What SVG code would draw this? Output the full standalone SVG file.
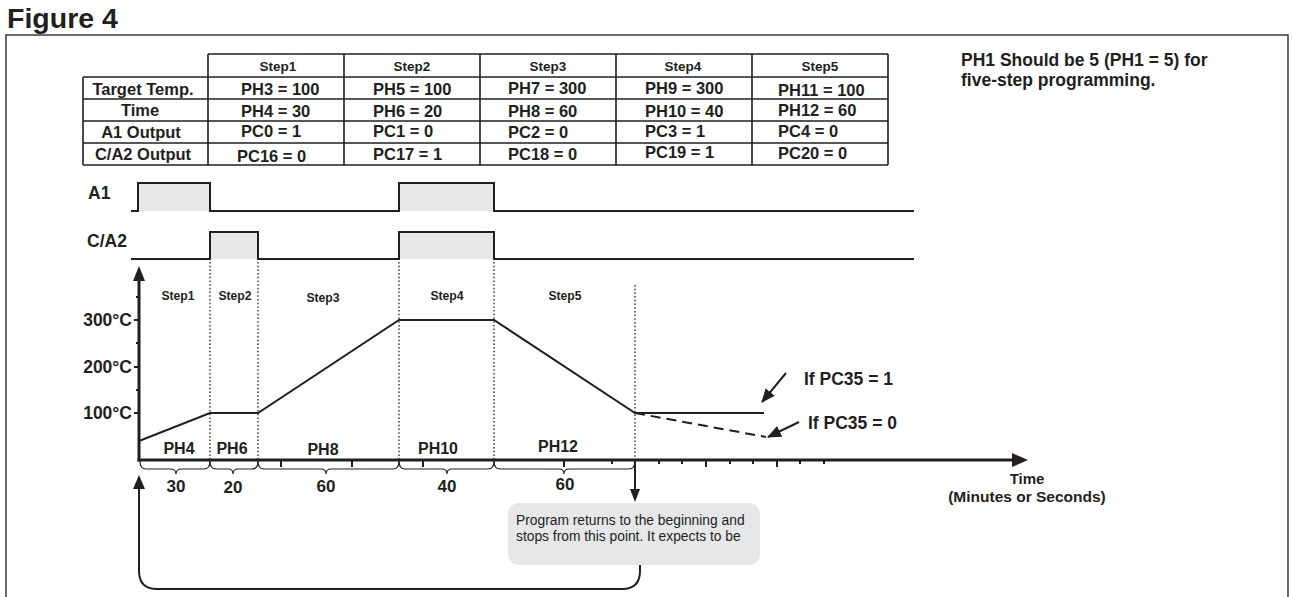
<svg xmlns="http://www.w3.org/2000/svg" width="1292" height="597" viewBox="0 0 1292 597">
<style>
text{font-family:"Liberation Sans",Arial,sans-serif;fill:#231f20}
.b{font-weight:bold}
.c{text-anchor:middle}
.tv{font-size:16.5px;font-weight:bold}
.th{font-size:13.5px;font-weight:bold;text-anchor:middle}
.tl{font-size:16.5px;font-weight:bold;text-anchor:middle}
.grid{stroke:#231f20;stroke-width:1.6;fill:none}
.sig{stroke:#231f20;stroke-width:2;fill:none}
.pulse{fill:#e6e7e8;stroke:none}
.dot{stroke:#231f20;stroke-width:1.3;stroke-dasharray:1.5 2.2;fill:none}
.ln{stroke:#231f20;stroke-width:2;fill:none}
.brace{stroke:#231f20;stroke-width:1.2;fill:none}
.axis{stroke:#231f20;stroke-width:3;fill:none}
.tick{stroke:#231f20;stroke-width:2;fill:none}
.head{fill:#231f20}
</style>
<defs>
<marker id="ah" viewBox="0 0 14 12" refX="13" refY="6" markerWidth="14" markerHeight="12" orient="auto" markerUnits="userSpaceOnUse"><path d="M0,0 L14,6 L0,12 z" fill="#231f20"/></marker>
</defs>
<rect width="1292" height="597" fill="#ffffff"/>

<g id="title"><text x="7" y="28" class="b" font-size="28.5">Figure 4</text></g>
<g id="frame"><path d="M6,600 L6,35 L1288,35 L1288,600" fill="none" stroke="#3a3a3a" stroke-width="1.5"/></g>

<g id="table">
<path class="grid" d="M208,54 H888 M83,77 H888 M83,99 H888 M83,121 H888 M83,143 H888 M83,165 H888 M83,77 V165 M208,54 V165 M344,54 V165 M480,54 V165 M616,54 V165 M752,54 V165 M888,54 V165"/>
<text x="278" y="71" class="th">Step1</text>
<text x="412" y="71" class="th">Step2</text>
<text x="548" y="71" class="th">Step3</text>
<text x="683" y="71" class="th">Step4</text>
<text x="820" y="71" class="th">Step5</text>
<text x="143" y="95" class="tl">Target Temp.</text>
<text x="140" y="116" class="tl">Time</text>
<text x="141" y="138" class="tl">A1 Output</text>
<text x="143" y="160" class="tl">C/A2 Output</text>
<text x="241" y="95" class="tv">PH3 = 100</text>
<text x="241" y="117" class="tv">PH4 = 30</text>
<text x="241" y="137" class="tv">PC0 = 1</text>
<text x="237" y="162" class="tv">PC16 = 0</text>
<text x="373" y="95" class="tv">PH5 = 100</text>
<text x="373" y="117" class="tv">PH6 = 20</text>
<text x="373" y="137" class="tv">PC1 = 0</text>
<text x="373" y="160" class="tv">PC17 = 1</text>
<text x="508" y="94" class="tv">PH7 = 300</text>
<text x="508" y="117" class="tv">PH8 = 60</text>
<text x="508" y="138" class="tv">PC2 = 0</text>
<text x="508" y="160" class="tv">PC18 = 0</text>
<text x="645" y="94" class="tv">PH9 = 300</text>
<text x="645" y="117" class="tv">PH10 = 40</text>
<text x="645" y="137" class="tv">PC3 = 1</text>
<text x="645" y="158" class="tv">PC19 = 1</text>
<text x="778" y="96" class="tv">PH11 = 100</text>
<text x="778" y="116" class="tv">PH12 = 60</text>
<text x="778" y="137" class="tv">PC4 = 0</text>
<text x="778" y="159" class="tv">PC20 = 0</text>
</g>

<g id="note">
<text x="961" y="66" class="b" font-size="17.5">PH1 Should be 5 (PH1 = 5) for</text>
<text x="961" y="86" class="b" font-size="17.5">five-step programming.</text>
</g>

<g id="signal-a1">
<text x="88" y="199" class="b" font-size="17.5">A1</text>
<rect class="pulse" x="138" y="183" width="72" height="28"/>
<rect class="pulse" x="399" y="183" width="95" height="28"/>
<path class="sig" d="M131,211 H138 V183 H210 V211 H399 V183 H494 V211 H914"/>
</g>
<g id="signal-ca2">
<text x="87" y="247" class="b" font-size="17.5">C/A2</text>
<rect class="pulse" x="210" y="232" width="48" height="27"/>
<rect class="pulse" x="399" y="232" width="95" height="27"/>
<path class="sig" d="M131,259 H210 V232 H258 V259 H399 V232 H494 V259 H914"/>
</g>

<g id="step-dividers">
<path class="dot" d="M210,262 V460 M258,262 V460 M399,262 V460 M494,262 V460 M635,285 V460"/>
</g>

<g id="step-labels" class="b" font-size="12.2">
<text x="178" y="300" class="c">Step1</text>
<text x="235" y="300" class="c">Step2</text>
<text x="323" y="302" class="c">Step3</text>
<text x="447" y="300" class="c">Step4</text>
<text x="565" y="300" class="c">Step5</text>
</g>

<g id="y-axis">
<path class="axis" d="M139,280 V461.5"/>
<polygon class="head" points="139,266 133,281 145,281"/>
<path class="tick" d="M134,320 H139 M134,367 H139 M134,413 H139 M136,297 H139 M136,343 H139 M136,390 H139"/>
<text x="132" y="326" class="b" font-size="17.5" text-anchor="end">300°C</text>
<text x="132" y="373" class="b" font-size="17.5" text-anchor="end">200°C</text>
<text x="132" y="419" class="b" font-size="17.5" text-anchor="end">100°C</text>
</g>

<g id="x-axis">
<path class="axis" d="M137.5,460 H1013"/>
<polygon class="head" points="1028,460 1012,453 1012,467"/>
<path class="tick" d="M281,460 V467 M352,460 V467 M423,460 V467 M564,460 V467 M706,460 V467 M777,460 V467"/>
<path class="tick" stroke-width="1.6" d="M612,460 V464 M659,460 V464 M682,460 V464 M730,460 V464 M753,460 V464 M800,460 V464 M824,460 V464"/>
<text x="1027" y="484" class="b c" font-size="15">Time</text>
<text x="1027" y="502" class="b c" font-size="15.5">(Minutes or Seconds)</text>
</g>

<g id="profile">
<polyline class="ln" points="139,441 210,413 258,413 399,320 494,320 635,413 764,413"/>
<path class="ln" stroke-dasharray="10 6" d="M635,413 L766,437"/>
</g>

<g id="durations">
<path class="brace" d="M140,461 Q140,469 146,469 H170 Q176,469 176,474 Q176,469 182,469 H204 Q210,469 210,461"/>
<path class="brace" d="M210,461 Q210,469 216,469 H228 Q233,469 233,474 Q233,469 238,469 H252 Q258,469 258,461"/>
<path class="brace" d="M258,461 Q258,469 264,469 H321 Q326,469 326,474 Q326,469 331,469 H393 Q399,469 399,461"/>
<path class="brace" d="M399,461 Q399,469 405,469 H442 Q447,469 447,474 Q447,469 452,469 H488 Q494,469 494,461"/>
<path class="brace" d="M494,461 Q494,469 500,469 H559 Q564,469 564,474 Q564,469 569,469 H629 Q635,469 635,461"/>
<g class="b c" font-size="16">
<text x="179" y="454">PH4</text>
<text x="232" y="454">PH6</text>
<text x="323" y="455">PH8</text>
<text x="438" y="454">PH10</text>
<text x="558" y="452">PH12</text>
</g>
<g class="b c" font-size="17">
<text x="176" y="492">30</text>
<text x="233" y="493">20</text>
<text x="326" y="492">60</text>
<text x="447" y="492">40</text>
<text x="565" y="490">60</text>
</g>
</g>

<g id="pc35-labels">
<text x="804" y="385" class="b" font-size="17.5">If PC35 = 1</text>
<text x="808" y="429" class="b" font-size="17.5">If PC35 = 0</text>
</g>

<g id="return-box">
<rect x="508" y="503" width="252" height="62" rx="11" fill="#e6e7e8"/>
<text x="516" y="525" font-size="13.8">Program returns to the beginning and</text>
<text x="516" y="541" font-size="13.8">stops from this point. It expects to be</text>
</g>

<g id="connectors">
<path class="ln" marker-end="url(#ah)" d="M786,373 L762,402"/>
<path class="ln" marker-end="url(#ah)" d="M799,422 L768,437"/>
<path class="ln" stroke-width="1.8" d="M635,461 V490"/>
<polygon class="head" points="635,502 630,489 640,489"/>
<path class="ln" stroke-width="1.6" d="M640,565 V571 Q640,589 622,589 H157 Q139,589 139,571 V487"/>
<polygon class="head" points="139,475 133,489 145,489"/>
</g>
</svg>
